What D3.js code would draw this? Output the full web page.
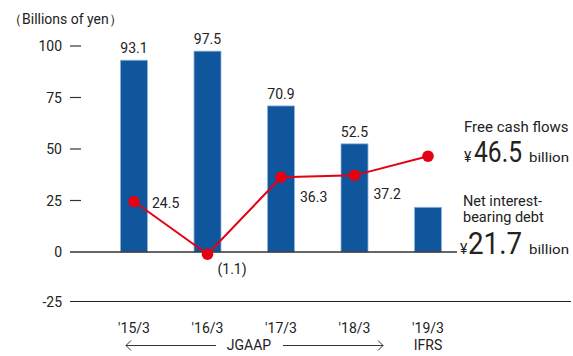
<!DOCTYPE html>
<html><head><meta charset="utf-8">
<script src="https://cdn.jsdelivr.net/npm/d3@7"></script>
<style>
body{margin:0;background:#fff;}
text{font-family:Roboto,"Noto Sans",sans-serif;fill:#222;}
</style></head>
<body><svg id="c" width="573" height="356"></svg>
<script>
const categories = ["'15/3","'16/3","'17/3","'18/3","'19/3"];
const netDebt = [93.1, 97.5, 70.9, 52.5, 21.7];
const freeCashFlow = [24.5, -1.1, 36.3, 37.2, 46.5];
const fcfLabels = ["24.5","(1.1)","36.3","37.2",null];
const yTicks = [100, 75, 50, 25, 0, -25];

const svg = d3.select("#c");
const x = d3.scalePoint().domain(categories).range([134, 428]);
const y = d3.scaleLinear().domain([0, 100]).range([252, 46]);
const barW = 27;
const blue = "#10569c", red = "#e50012";

svg.append("text").attr("x", 8).attr("y", 24).attr("font-size", 14).text("（Billions of yen）");

// y ticks
const yl = svg.append("g");
yTicks.forEach(t => {
  const yy = t === -25 ? 302 : y(t);
  yl.append("text").attr("x", 62).attr("y", yy + 5).attr("text-anchor", "end")
    .attr("font-size", 14).text(t);
  if (t > 0) yl.append("line").attr("x1", 70).attr("x2", 81).attr("y1", yy).attr("y2", yy)
    .attr("stroke", "#333").attr("stroke-width", 1.2);
});
svg.append("line").attr("x1", 70).attr("x2", 571).attr("y1", 301.5).attr("y2", 301.5)
  .attr("stroke", "#222").attr("stroke-width", 1.2);

// bars
svg.selectAll("rect.bar").data(netDebt).join("rect").attr("class", "bar")
  .attr("x", (d, i) => x(categories[i]) - barW / 2)
  .attr("y", d => y(d)).attr("width", barW).attr("height", d => y(0) - y(d))
  .attr("fill", blue).attr("stroke", "#8fb3dc").attr("stroke-width", 0.8);

svg.append("line").attr("x1", 70).attr("x2", 457).attr("y1", y(0)).attr("y2", y(0))
  .attr("stroke", "#333").attr("stroke-width", 1.5);

svg.selectAll("text.bl").data(netDebt.slice(0, 4)).join("text").attr("class", "bl")
  .attr("x", (d, i) => x(categories[i])).attr("y", d => y(d) - 7)
  .attr("text-anchor", "middle").attr("font-size", 14).text(d => d.toFixed(1));

// line
const line = d3.line().x((d, i) => x(categories[i])).y(d => y(d));
svg.append("path").datum(freeCashFlow).attr("d", line).attr("fill", "none")
  .attr("stroke", red).attr("stroke-width", 2);
svg.selectAll("circle").data(freeCashFlow).join("circle")
  .attr("cx", (d, i) => x(categories[i])).attr("cy", d => y(d)).attr("r", 5.8).attr("fill", red);

const lblOff = [[18, 1], [10, 15], [19, 20], [19, 19]];
freeCashFlow.forEach((d, i) => {
  if (!fcfLabels[i]) return;
  svg.append("text").attr("x", x(categories[i]) + lblOff[i][0]).attr("y", y(d) + lblOff[i][1] + 5)
    .attr("font-size", 14).text(fcfLabels[i]);
});

// x labels
svg.selectAll("text.xl").data(categories).join("text").attr("class", "xl")
  .attr("x", d => x(d)).attr("y", 333).attr("text-anchor", "middle").attr("font-size", 14).text(d => d);

// JGAAP arrows
const ay = 345.5;
svg.append("line").attr("x1", 126).attr("x2", 216).attr("y1", ay).attr("y2", ay).attr("stroke", "#333");
svg.append("path").attr("d", `M131,${ay-5}L126,${ay}L131,${ay+5}`).attr("fill", "none").attr("stroke", "#333");
svg.append("line").attr("x1", 283).attr("x2", 383).attr("y1", ay).attr("y2", ay).attr("stroke", "#333");
svg.append("path").attr("d", `M378,${ay-5}L383,${ay}L378,${ay+5}`).attr("fill", "none").attr("stroke", "#333");
svg.append("text").attr("x", 249).attr("y", 350).attr("text-anchor", "middle").attr("font-size", 14).text("JGAAP");
svg.append("text").attr("x", 428).attr("y", 350).attr("text-anchor", "middle").attr("font-size", 14).text("IFRS");

// annotations
function bigValue(xYen, yBase, val, numX, numW, numSize) {
  svg.append("text").attr("x", xYen).attr("y", yBase).attr("font-size", 14).text("¥");
  svg.append("text").attr("x", numX).attr("y", yBase).attr("font-size", numSize)
    .attr("textLength", numW).attr("lengthAdjust", "spacingAndGlyphs").text(val.toFixed(1));
  svg.append("text").attr("x", 529).attr("y", yBase).attr("font-size", 13)
    .attr("textLength", 40).attr("lengthAdjust", "spacingAndGlyphs").text("billion");
}
svg.append("text").attr("x", 464).attr("y", 132).attr("font-size", 15).text("Free cash flows");
bigValue(464, 162, freeCashFlow[4], 474, 48, 29);

svg.append("text").attr("x", 463).attr("y", 206).attr("font-size", 14.5).text("Net interest-");
svg.append("text").attr("x", 463).attr("y", 222).attr("font-size", 14.5).text("bearing debt");
bigValue(460, 254, netDebt[4], 468, 54, 31);
</script></body></html>
